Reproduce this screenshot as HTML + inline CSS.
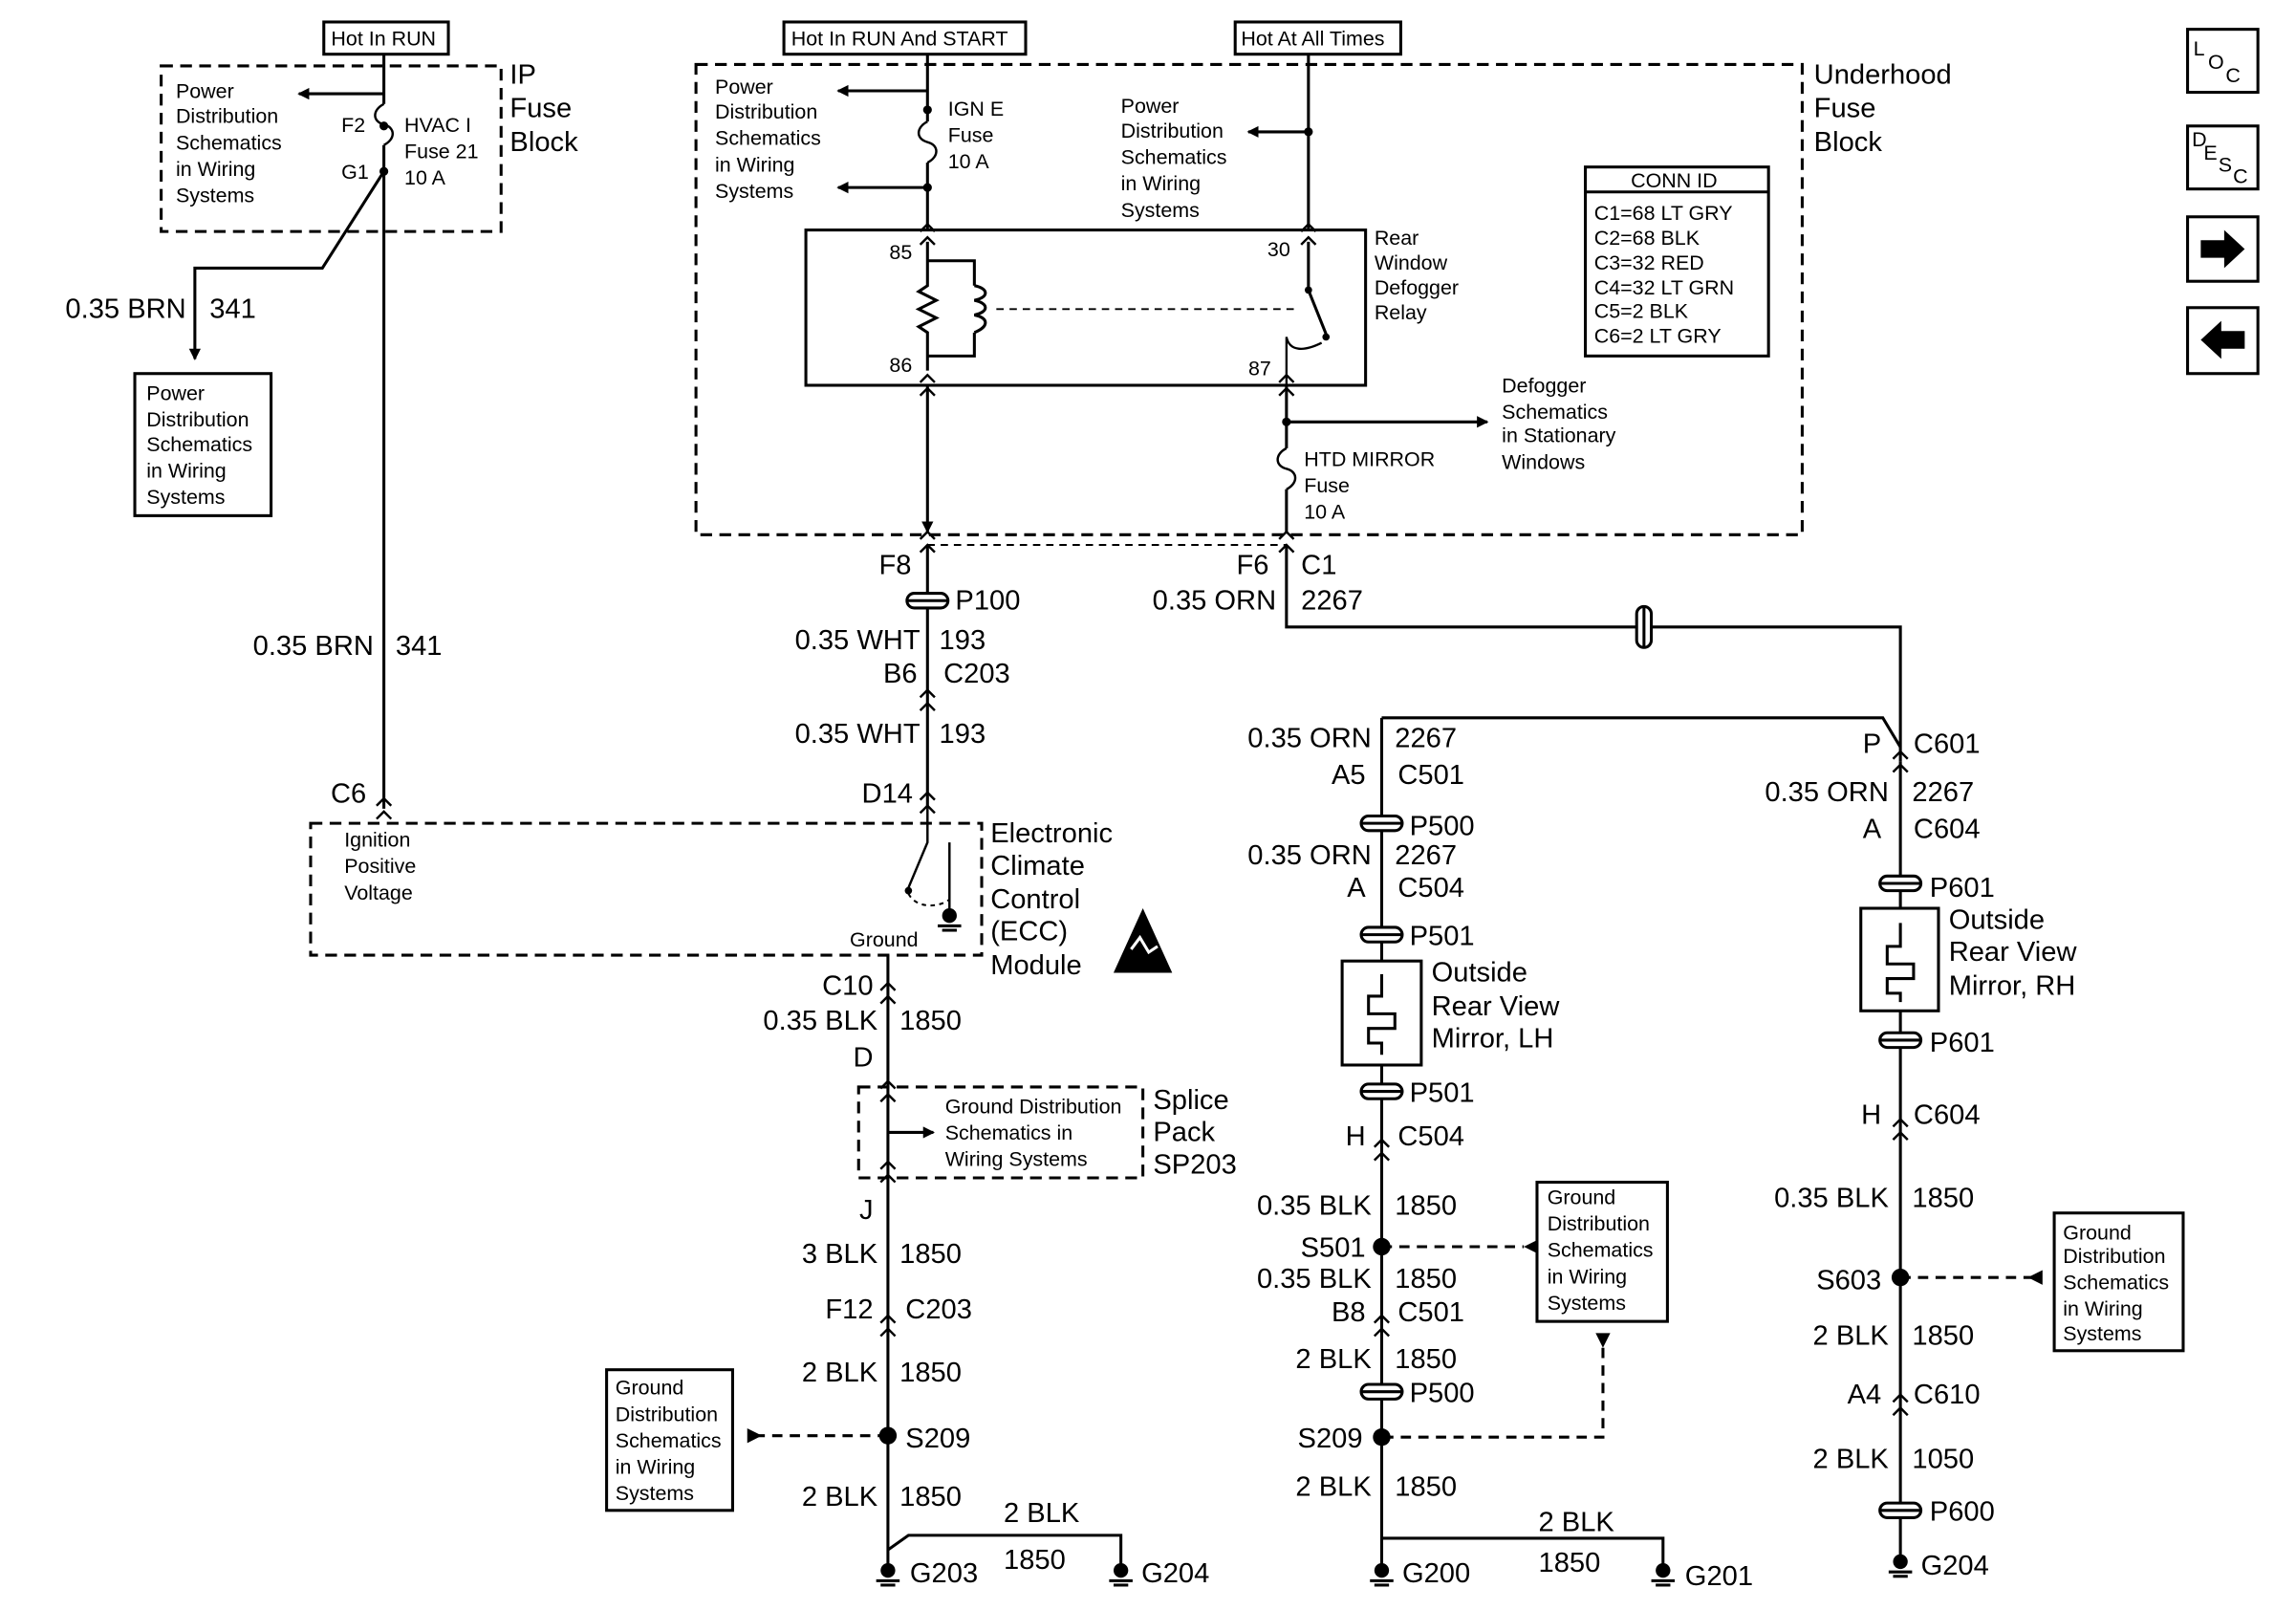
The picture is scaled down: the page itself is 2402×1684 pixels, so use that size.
<!DOCTYPE html>
<html><head><meta charset="utf-8"><style>
html,body{margin:0;padding:0;background:#fff}
svg{display:block}
text{font-family:"Liberation Sans",sans-serif;fill:#000}
.L{font-size:19px}
.s{font-size:14px}
.e{text-anchor:end}
</style></head><body>
<svg width="2402" height="1684" viewBox="0 0 1567 1099" preserveAspectRatio="none" xmlns="http://www.w3.org/2000/svg">
<defs>
<marker id="a" markerWidth="8" markerHeight="8" refX="7" refY="4" orient="auto" markerUnits="userSpaceOnUse"><path d="M0,0 L8,4 L0,8z" fill="#000"/></marker>
<g id="conn"><rect x="-14" y="-5" width="28" height="10" rx="5" fill="#fff" stroke="#000" stroke-width="2"/><line x1="-14" y1="0" x2="14" y2="0" stroke="#000" stroke-width="2"/></g>
<g id="chev"><path d="M-5,-2 L0,-7 L5,-2 M-5,7 L0,2 L5,7" fill="none" stroke="#000" stroke-width="1.6"/></g>
<g id="fuse"><path d="M0,-14 C-8,-10 -8,-2 0,0 C8,2 8,10 0,14" fill="none" stroke="#000" stroke-width="1.6"/></g>
<g id="gnd"><circle r="5" fill="#000"/><line x1="-8" y1="7" x2="8" y2="7" stroke="#000" stroke-width="2"/><line x1="-5" y1="10" x2="5" y2="10" stroke="#000" stroke-width="2"/></g>
</defs>
<g stroke="#000" stroke-width="2" fill="none">
<rect x="221" y="15" width="85" height="22"/><rect x="535" y="15" width="165" height="22"/><rect x="843" y="15" width="113" height="22"/>
<rect x="110" y="45" width="232" height="113" stroke-dasharray="8,5"/>
<path d="M262,37 V71 M262,99 V552"/>
<path d="M262,64 H204" marker-end="url(#a)"/>
<path d="M262,117 L220,183 H133 V245" marker-end="url(#a)"/>
<rect x="92" y="255" width="93" height="97"/>
<rect x="475" y="44" width="755" height="321" stroke-dasharray="8,5"/>
<path d="M633,37 V83 M633,111 V157"/>
<path d="M633,62 H572" marker-end="url(#a)"/><path d="M633,128 H572" marker-end="url(#a)"/>
<path d="M893,37 V157"/><path d="M893,90 H852" marker-end="url(#a)"/>
<rect x="550" y="157" width="382" height="106"/>
<path d="M633,165 V195 L627,199 L639,205 L627,211 L639,217 L627,223 L633,227 V253"/>
<path d="M633,178 H665 V195 M665,227 V243 H633"/>
<path d="M665,195 C675,197 675,203 665,205 C675,207 675,213 665,215 C675,217 675,223 665,227" />
<path d="M680,211 H885" stroke-dasharray="5,4" stroke-width="1.3"/>
<path d="M893,165 V198 L905,228"/>
<path d="M878,263 V230 C880,240 890,240 902,234" stroke-width="1.5"/>
<path d="M633,263 V363" marker-end="url(#a)"/>
<path d="M878,263 V306 M878,334 V363"/>
<path d="M878,288 H1015" marker-end="url(#a)"/>
<rect x="1082" y="114" width="125" height="129"/><line x1="1082" y1="131" x2="1207" y2="131"/>
<path d="M633,372 H878" stroke-dasharray="5,4" stroke-width="1.3"/>
<path d="M633,372 V552"/>
<path d="M878,372 V428 H1297 V520"/>
<path d="M943,490 H1285 L1297,510"/>
<path d="M943,490 V1070"/>
<path d="M1297,520 V1066"/>
<rect x="916" y="656" width="54" height="71" fill="#fff"/>
<rect x="1270" y="620" width="53" height="70" fill="#fff"/>
<path d="M943,665 V680 H934 V692 H952 V702 H934 V712 H943 V720"/>
<path d="M1297,630 V646 H1288 V658 H1306 V668 H1288 V678 H1297 V684"/>
<rect x="212" y="562" width="458" height="90" stroke-dasharray="8,5"/>
<path d="M633,552 V575 L620,606" stroke-width="1.6"/>
<path d="M648,575 V625" stroke-width="1.6"/>
<path d="M620,610 C625,620 640,620 648,614" stroke-dasharray="3,3" stroke-width="1.3"/>
<path d="M606,652 V1070"/>
<rect x="586" y="742" width="194" height="62" stroke-dasharray="8,5"/>
<path d="M606,773 H637" marker-end="url(#a)"/>
<path d="M606,1058 L620,1048 H765 V1070" />
<path d="M943,1050 H1135 V1070"/>
<rect x="1049" y="807" width="89" height="95"/>
<rect x="1402" y="828" width="88" height="94"/>
<rect x="414" y="935" width="86" height="96"/>
<path d="M943,851 H1040" stroke-dasharray="7,5"/>
<path d="M1094,920 V981 H943" stroke-dasharray="7,5"/>
<path d="M1297,872 H1392" stroke-dasharray="7,5"/>
<path d="M606,980 H515" stroke-dasharray="7,5"/>
<rect x="1493" y="20" width="48" height="43"/><rect x="1493" y="86" width="48" height="43"/>
<rect x="1493" y="148" width="48" height="44"/><rect x="1493" y="210" width="48" height="45"/>
</g>
<g fill="#000">
<path d="M1040,846 L1050,851 L1040,856z" transform="rotate(180 1045 851)"/>
<path d="M1089,910 L1099,910 L1094,920z"/>
<path d="M1384,867 L1394,872 L1384,877z" transform="rotate(180 1389 872)"/>
<path d="M510,975 L520,980 L510,985z"/>
<path d="M1502,164 H1518 V157 L1532,170 L1518,183 V176 H1502z"/>
<path d="M1532,226 H1516 V219 L1502,232 L1516,245 V238 H1532z"/>
<path d="M780,620 L800,664 L760,664z"/>
<circle cx="262" cy="86" r="3"/><circle cx="262" cy="117" r="3"/><circle cx="633" cy="75" r="3"/><circle cx="633" cy="128" r="3"/>
<circle cx="893" cy="90" r="3"/><circle cx="878" cy="288" r="3"/>
<circle cx="606" cy="980" r="6"/><circle cx="943" cy="851" r="6"/><circle cx="943" cy="981" r="6"/><circle cx="1297" cy="872" r="6"/>
<circle cx="893" cy="198" r="2.5"/><circle cx="905" cy="230" r="2.5"/><circle cx="620" cy="608" r="2.5"/>
</g>
<path d="M772,648 L778,640 L784,650 L790,646" stroke="#fff" stroke-width="2" fill="none"/>
<use href="#fuse" x="262" y="85"/><use href="#fuse" x="633" y="97"/><use href="#fuse" x="878" y="320"/>
<use href="#conn" x="633" y="410"/><use href="#conn" x="943" y="562"/><use href="#conn" x="943" y="638"/><use href="#conn" x="943" y="745"/><use href="#conn" x="943" y="950"/>
<use href="#conn" x="1297" y="603"/><use href="#conn" x="1297" y="710"/><use href="#conn" x="1297" y="1031"/>
<use href="#conn" transform="translate(1122,428) rotate(90)"/>
<use href="#chev" x="633" y="478"/><use href="#chev" x="606" y="905"/><use href="#chev" x="943" y="905"/><use href="#chev" x="1297" y="520"/>
<use href="#chev" x="1297" y="771"/><use href="#chev" x="1297" y="959"/><use href="#chev" x="943" y="785"/><use href="#chev" x="606" y="678"/>
<use href="#chev" x="606" y="745"/><use href="#chev" x="606" y="800"/><use href="#chev" x="262" y="552"/><use href="#chev" x="633" y="548"/>
<use href="#chev" x="633" y="160"/><use href="#chev" x="633" y="263"/><use href="#chev" x="893" y="160"/><use href="#chev" x="878" y="263"/>
<use href="#chev" x="633" y="370"/><use href="#chev" x="878" y="370"/>
<use href="#gnd" x="648" y="625"/><use href="#gnd" x="606" y="1072"/><use href="#gnd" x="765" y="1072"/><use href="#gnd" x="943" y="1072"/><use href="#gnd" x="1135" y="1072"/><use href="#gnd" x="1297" y="1066"/>
<g class="s">
<text x="226" y="31">Hot In RUN</text><text x="540" y="31">Hot In RUN And START</text><text x="847" y="31">Hot At All Times</text>
<text x="120" y="67">Power</text><text x="120" y="84">Distribution</text><text x="120" y="102">Schematics</text><text x="120" y="120">in Wiring</text><text x="120" y="138">Systems</text>
<text x="233" y="90">F2</text><text x="233" y="122">G1</text><text x="276" y="90">HVAC I</text><text x="276" y="108">Fuse 21</text><text x="276" y="126">10 A</text>
<text x="100" y="273">Power</text><text x="100" y="291">Distribution</text><text x="100" y="308">Schematics</text><text x="100" y="326">in Wiring</text><text x="100" y="344">Systems</text>
<text x="488" y="64">Power</text><text x="488" y="81">Distribution</text><text x="488" y="99">Schematics</text><text x="488" y="117">in Wiring</text><text x="488" y="135">Systems</text>
<text x="647" y="79">IGN E</text><text x="647" y="97">Fuse</text><text x="647" y="115">10 A</text>
<text x="765" y="77">Power</text><text x="765" y="94">Distribution</text><text x="765" y="112">Schematics</text><text x="765" y="130">in Wiring</text><text x="765" y="148">Systems</text>
<text x="607" y="177">85</text><text x="607" y="254">86</text><text x="865" y="175">30</text><text x="852" y="256">87</text>
<text x="938" y="167">Rear</text><text x="938" y="184">Window</text><text x="938" y="201">Defogger</text><text x="938" y="218">Relay</text>
<text x="1113" y="128">CONN ID</text>
<text x="1088" y="150">C1=68 LT GRY</text><text x="1088" y="167">C2=68 BLK</text><text x="1088" y="184">C3=32 RED</text><text x="1088" y="201">C4=32 LT GRN</text><text x="1088" y="217">C5=2 BLK</text><text x="1088" y="234">C6=2 LT GRY</text>
<text x="1025" y="268">Defogger</text><text x="1025" y="286">Schematics</text><text x="1025" y="302">in Stationary</text><text x="1025" y="320">Windows</text>
<text x="890" y="318">HTD MIRROR</text><text x="890" y="336">Fuse</text><text x="890" y="354">10 A</text>
<text x="235" y="578">Ignition</text><text x="235" y="596">Positive</text><text x="235" y="614">Voltage</text><text x="580" y="646">Ground</text>
<text x="645" y="760">Ground Distribution</text><text x="645" y="778">Schematics in</text><text x="645" y="796">Wiring Systems</text>
<text x="1056" y="822">Ground</text><text x="1056" y="840">Distribution</text><text x="1056" y="858">Schematics</text><text x="1056" y="876">in Wiring</text><text x="1056" y="894">Systems</text>
<text x="1408" y="846">Ground</text><text x="1408" y="862">Distribution</text><text x="1408" y="880">Schematics</text><text x="1408" y="898">in Wiring</text><text x="1408" y="915">Systems</text>
<text x="420" y="952">Ground</text><text x="420" y="970">Distribution</text><text x="420" y="988">Schematics</text><text x="420" y="1006">in Wiring</text><text x="420" y="1024">Systems</text>
<text x="1497" y="38">L</text><text x="1507" y="47">O</text><text x="1519" y="56">C</text>
<text x="1496" y="100">D</text><text x="1504" y="109">E</text><text x="1514" y="117">S</text><text x="1524" y="125">C</text>
</g>
<g class="L">
<text x="348" y="57">IP</text><text x="348" y="80">Fuse</text><text x="348" y="103">Block</text>
<text x="1238" y="57">Underhood</text><text x="1238" y="80">Fuse</text><text x="1238" y="103">Block</text>
<text x="127" y="217" class="e">0.35 BRN</text><text x="143" y="217">341</text>
<text x="255" y="447" class="e">0.35 BRN</text><text x="270" y="447">341</text>
<text x="250" y="548" class="e">C6</text>
<text x="622" y="392" class="e">F8</text><text x="866" y="392" class="e">F6</text><text x="888" y="392">C1</text>
<text x="652" y="416">P100</text>
<text x="628" y="443" class="e">0.35 WHT</text><text x="641" y="443">193</text>
<text x="626" y="466" class="e">B6</text><text x="644" y="466">C203</text>
<text x="628" y="507" class="e">0.35 WHT</text><text x="641" y="507">193</text>
<text x="623" y="548" class="e">D14</text>
<text x="871" y="416" class="e">0.35 ORN</text><text x="888" y="416">2267</text>
<text x="676" y="575">Electronic</text><text x="676" y="597">Climate</text><text x="676" y="620">Control</text><text x="676" y="642">(ECC)</text><text x="676" y="665">Module</text>
<text x="596" y="679" class="e">C10</text>
<text x="599" y="703" class="e">0.35 BLK</text><text x="614" y="703">1850</text>
<text x="596" y="728" class="e">D</text>
<text x="787" y="757">Splice</text><text x="787" y="779">Pack</text><text x="787" y="801">SP203</text>
<text x="596" y="832" class="e">J</text>
<text x="599" y="862" class="e">3 BLK</text><text x="614" y="862">1850</text>
<text x="596" y="900" class="e">F12</text><text x="618" y="900">C203</text>
<text x="599" y="943" class="e">2 BLK</text><text x="614" y="943">1850</text>
<text x="618" y="988">S209</text>
<text x="599" y="1028" class="e">2 BLK</text><text x="614" y="1028">1850</text>
<text x="685" y="1039">2 BLK</text><text x="685" y="1071">1850</text>
<text x="621" y="1080">G203</text><text x="779" y="1080">G204</text>
<text x="936" y="510" class="e">0.35 ORN</text><text x="952" y="510">2267</text>
<text x="932" y="535" class="e">A5</text><text x="954" y="535">C501</text>
<text x="962" y="570">P500</text>
<text x="936" y="590" class="e">0.35 ORN</text><text x="952" y="590">2267</text>
<text x="932" y="612" class="e">A</text><text x="954" y="612">C504</text>
<text x="962" y="645">P501</text>
<text x="977" y="670">Outside</text><text x="977" y="693">Rear View</text><text x="977" y="715">Mirror, LH</text>
<text x="962" y="752">P501</text>
<text x="932" y="782" class="e">H</text><text x="954" y="782">C504</text>
<text x="936" y="829" class="e">0.35 BLK</text><text x="952" y="829">1850</text>
<text x="932" y="858" class="e">S501</text>
<text x="936" y="879" class="e">0.35 BLK</text><text x="952" y="879">1850</text>
<text x="932" y="902" class="e">B8</text><text x="954" y="902">C501</text>
<text x="936" y="934" class="e">2 BLK</text><text x="952" y="934">1850</text>
<text x="962" y="957">P500</text>
<text x="930" y="988" class="e">S209</text>
<text x="936" y="1021" class="e">2 BLK</text><text x="952" y="1021">1850</text>
<text x="1050" y="1045">2 BLK</text><text x="1050" y="1073">1850</text>
<text x="957" y="1080">G200</text><text x="1150" y="1082">G201</text>
<text x="1284" y="514" class="e">P</text><text x="1306" y="514">C601</text>
<text x="1289" y="547" class="e">0.35 ORN</text><text x="1305" y="547">2267</text>
<text x="1284" y="572" class="e">A</text><text x="1306" y="572">C604</text>
<text x="1317" y="612">P601</text>
<text x="1330" y="634">Outside</text><text x="1330" y="656">Rear View</text><text x="1330" y="679">Mirror, RH</text>
<text x="1317" y="718">P601</text>
<text x="1284" y="767" class="e">H</text><text x="1306" y="767">C604</text>
<text x="1289" y="824" class="e">0.35 BLK</text><text x="1305" y="824">1850</text>
<text x="1284" y="880" class="e">S603</text>
<text x="1289" y="918" class="e">2 BLK</text><text x="1305" y="918">1850</text>
<text x="1284" y="958" class="e">A4</text><text x="1306" y="958">C610</text>
<text x="1289" y="1002" class="e">2 BLK</text><text x="1305" y="1002">1050</text>
<text x="1317" y="1038">P600</text>
<text x="1311" y="1075">G204</text>
</g>
</svg>
</body></html>
